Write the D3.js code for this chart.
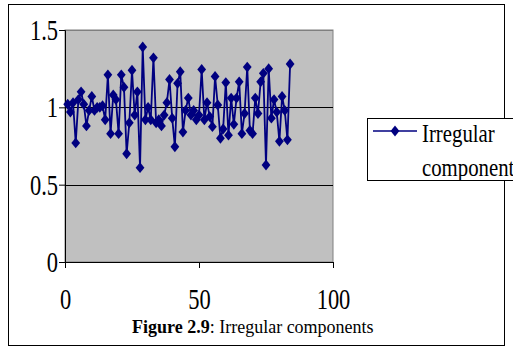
<!DOCTYPE html>
<html><head><meta charset="utf-8">
<script src="https://cdn.jsdelivr.net/npm/d3@7"></script>
<style>body{margin:0;background:#fff}svg{display:block}text{font-family:"Liberation Serif","Times New Roman",serif}</style>
</head><body>
<svg id="c" width="513" height="362"></svg>
<script>
const xTicks = [0, 50, 100];
const yTicks = [0, 0.5, 1, 1.5];
const seriesName = ["Irregular", "component"];
const xValues = d3.range(1, 85);
const irregular = [
 1.02,0.97,1.03,0.77,1.05,1.10,1.02,0.88,0.98,1.07,
 0.98,1.00,1.00,1.01,0.92,1.21,0.83,1.08,1.05,0.83,
 1.21,1.13,0.70,0.90,1.24,0.95,1.10,0.61,1.39,0.92,
 1.00,0.92,1.32,0.90,0.92,0.88,0.95,1.03,1.18,0.93,
 0.745,1.155,1.23,0.84,0.98,1.06,0.95,0.98,0.92,0.95,
 1.245,0.92,1.03,0.94,0.875,1.20,1.015,0.80,0.86,1.16,
 0.82,1.06,0.89,1.06,1.165,0.83,0.96,1.26,0.85,0.83,
 1.06,0.96,1.165,1.22,0.627,1.25,0.93,1.05,0.97,0.78,
 1.07,0.98,0.79,1.28
];
const svg = d3.select("#c");
svg.append("rect").attr("x",8.5).attr("y",4.5).attr("width",496).attr("height",341)
  .attr("fill","none").attr("stroke","#000").attr("stroke-width",1);
const L=65, R=333, T=30, B=262;
const x = d3.scaleLinear().domain([0,100]).range([L,R]);
const y = d3.scaleLinear().domain([0,1.5]).range([B,T]);
svg.append("rect").attr("x",L).attr("y",T).attr("width",R-L).attr("height",B-T)
  .attr("fill","#c0c0c0").attr("stroke","#808080").attr("stroke-width",1);
svg.append("g").selectAll("line").data(yTicks.filter(v=>v>0)).join("line")
  .attr("x1",L).attr("x2",R).attr("y1",d=>Math.round(y(d))+0.5).attr("y2",d=>Math.round(y(d))+0.5)
  .attr("stroke",(d)=>d===1.5?"#808080":"#000").attr("stroke-width",1);
const SX = 0.75, FS = 30;
const ya = svg.append("g").attr("transform",`translate(${L},0)`)
  .call(d3.axisLeft(y).tickValues(yTicks).tickFormat(d3.format("")).tickSize(6));
const xa = svg.append("g").attr("transform",`translate(0,${B})`)
  .call(d3.axisBottom(x).tickValues(xTicks).tickSize(6).tickPadding(20));
[ya,xa].forEach(a=>{a.select(".domain").attr("stroke","#000");a.selectAll(".tick line").attr("stroke","#000");
  a.selectAll("text").attr("font-size",FS).attr("fill","#000").attr("transform",`scale(${SX},1)`);});
ya.selectAll("text").attr("x",-7/SX);
// series
const line = d3.line().x((d,i)=>x(xValues[i])).y(d=>y(d));
svg.append("path").datum(irregular).attr("d",line).attr("fill","none")
  .attr("stroke","#000080").attr("stroke-width",1.8);
const sym = d3.symbol().type(d3.symbolDiamond2).size(68);
svg.append("g").selectAll("path").data(irregular).join("path")
  .attr("transform",(d,i)=>`translate(${x(xValues[i])},${y(d)}) scale(0.85,1.05)`).attr("d",sym).attr("fill","#000080");
// legend
const lg = svg.append("g");
lg.append("rect").attr("x",367.5).attr("y",118.5).attr("width",150).attr("height",62)
  .attr("fill","#fff").attr("stroke","#000");
lg.append("line").attr("x1",373).attr("x2",417).attr("y1",131).attr("y2",131).attr("stroke","#000080").attr("stroke-width",1.5);
lg.append("path").attr("transform","translate(395,131) scale(0.85,1.05)").attr("d",sym).attr("fill","#000080");
const LS = 0.8;
lg.append("text").attr("transform",`translate(422,142) scale(${LS},1)`).attr("font-size",26).text(seriesName[0]);
lg.append("text").attr("transform",`translate(422,176) scale(${LS},1)`).attr("font-size",26).text(seriesName[1]);
// caption
const cap = svg.append("text").attr("x",132).attr("y",333).attr("font-size",18);
cap.append("tspan").attr("font-weight","bold").text("Figure 2.9");
cap.append("tspan").text(": Irregular components");
</script>
</body></html>
